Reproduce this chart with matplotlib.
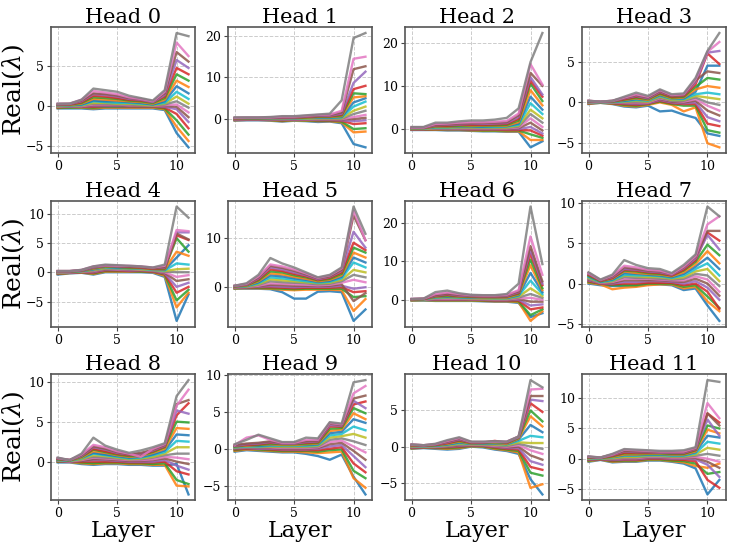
import matplotlib
matplotlib.use("Agg")
import matplotlib.pyplot as plt

plt.rcParams['font.family'] = ['DejaVu Serif']
plt.rcParams['mathtext.fontset'] = 'dejavuserif'

layers = list(range(12))
titles = [f"Head {i}" for i in range(12)]

# each head: rows = layers 0..11, columns = eigenvalue index (real part)
head0 = [
 [-0.3,-0.25,-0.2,-0.15,-0.1,-0.1,-0.05,0,0,0.05,0.1,0.1,0.15,0.2,0.2,0.25,0.3,0.3],
 [-0.3,-0.2,-0.2,-0.1,-0.1,-0.05,0,0,0.05,0.1,0.1,0.15,0.2,0.2,0.25,0.3,0.3,0.3],
 [-0.3,-0.2,-0.15,-0.1,-0.05,0,0,0.05,0.1,0.15,0.2,0.3,0.4,0.5,0.6,0.7,0.8,0.8],
 [-0.4,-0.3,-0.2,-0.1,0,0.1,0.2,0.3,0.4,0.6,0.7,0.9,1.1,1.3,1.5,1.6,1.9,2.2],
 [-0.3,-0.2,-0.1,0,0,0.1,0.2,0.3,0.4,0.5,0.6,0.8,1.0,1.2,1.4,1.5,1.7,2.0],
 [-0.3,-0.2,-0.1,0,0,0.1,0.2,0.2,0.3,0.4,0.6,0.7,0.9,1.0,1.2,1.3,1.5,1.8],
 [-0.3,-0.2,-0.1,-0.05,0,0.05,0.1,0.2,0.3,0.4,0.5,0.6,0.7,0.8,0.9,1.0,1.1,1.3],
 [-0.3,-0.2,-0.1,-0.05,0,0,0.1,0.1,0.2,0.3,0.4,0.5,0.6,0.7,0.8,0.9,0.9,1.0],
 [-0.3,-0.2,-0.1,-0.05,0,0,0.05,0.1,0.1,0.2,0.2,0.3,0.4,0.5,0.5,0.6,0.6,0.7],
 [-0.5,-0.4,-0.3,-0.2,-0.1,0,0.1,0.2,0.3,0.4,0.6,0.8,1.0,1.2,1.4,1.6,1.8,2.0],
 [-3.4,-2.6,-1.8,-1.0,-0.4,-0.1,0.2,0.6,1.2,1.8,2.5,3.2,4.0,4.8,5.8,6.8,8.0,9.2],
 [-5.2,-4.4,-3.6,-2.8,-2.0,-1.4,-0.8,-0.2,0.3,0.9,1.6,2.4,3.2,4.0,4.8,5.6,6.3,8.8],
]
head1 = [
 [-0.4,-0.3,-0.2,-0.15,-0.1,-0.05,0,0,0.05,0.1,0.1,0.15,0.2,0.2,0.25,0.3,0.3,0.4],
 [-0.3,-0.2,-0.15,-0.1,-0.05,0,0,0.05,0.1,0.1,0.15,0.2,0.2,0.25,0.3,0.3,0.35,0.4],
 [-0.3,-0.2,-0.15,-0.1,-0.05,0,0,0.05,0.1,0.1,0.15,0.2,0.2,0.25,0.3,0.3,0.35,0.4],
 [-0.4,-0.3,-0.2,-0.15,-0.1,-0.05,0,0,0.05,0.1,0.15,0.2,0.25,0.3,0.3,0.35,0.4,0.5],
 [-0.6,-0.5,-0.4,-0.3,-0.2,-0.1,0,0,0.1,0.1,0.2,0.2,0.3,0.3,0.4,0.5,0.6,0.7],
 [-0.4,-0.3,-0.2,-0.15,-0.1,0,0,0.05,0.1,0.15,0.2,0.25,0.3,0.35,0.4,0.5,0.6,0.7],
 [-0.5,-0.4,-0.3,-0.2,-0.1,0,0,0.1,0.1,0.2,0.3,0.3,0.4,0.5,0.6,0.7,0.8,0.9],
 [-0.7,-0.5,-0.4,-0.3,-0.2,-0.1,0,0.1,0.2,0.3,0.4,0.5,0.6,0.7,0.8,0.9,1.0,1.1],
 [-0.6,-0.5,-0.4,-0.3,-0.2,-0.1,0,0.1,0.2,0.3,0.4,0.5,0.6,0.7,0.8,1.0,1.1,1.3],
 [-1.0,-0.8,-0.6,-0.4,-0.3,-0.1,0,0.1,0.2,0.4,0.5,0.7,0.9,1.1,1.3,1.6,2.0,4.5],
 [-6.0,-3.2,-2.4,-1.2,-0.5,0,0.5,1.2,2.0,3.0,4.0,5.2,6.2,7.2,8.7,12.0,14.5,19.5],
 [-6.8,-3.0,-2.2,-1.0,-0.3,0.3,1.0,2.0,3.0,4.2,5.0,5.5,6.0,8.0,11.4,12.7,15.0,20.7],
]
head2 = [
 [-0.2,-0.15,-0.1,-0.05,0,0,0.05,0.1,0.1,0.15,0.2,0.2,0.25,0.3,0.3,0.4,0.4,0.5],
 [-0.2,-0.15,-0.1,-0.05,0,0,0.05,0.1,0.1,0.15,0.2,0.2,0.25,0.3,0.3,0.4,0.4,0.5],
 [-0.2,-0.1,0,0,0.1,0.1,0.2,0.2,0.3,0.4,0.5,0.6,0.7,0.8,0.9,1.0,1.2,1.5],
 [-0.3,-0.2,-0.1,0,0,0.1,0.2,0.2,0.3,0.4,0.5,0.6,0.7,0.8,1.0,1.1,1.3,1.5],
 [-0.3,-0.2,-0.1,0,0,0.1,0.2,0.3,0.4,0.5,0.6,0.7,0.8,1.0,1.1,1.3,1.5,1.8],
 [-0.4,-0.3,-0.2,-0.1,0,0.1,0.2,0.3,0.4,0.5,0.6,0.7,0.9,1.0,1.2,1.3,1.6,2.0],
 [-0.5,-0.4,-0.3,-0.1,0,0.1,0.2,0.3,0.4,0.5,0.6,0.8,0.9,1.0,1.2,1.4,1.6,2.0],
 [-0.5,-0.4,-0.3,-0.1,0,0.1,0.2,0.3,0.4,0.5,0.7,0.8,0.9,1.1,1.3,1.5,1.7,2.2],
 [-0.6,-0.5,-0.3,-0.2,0,0.1,0.2,0.3,0.4,0.6,0.7,0.8,1.0,1.2,1.4,1.6,1.9,2.6],
 [-0.6,-0.5,-0.3,-0.2,0,0.2,0.4,0.6,0.8,1.0,1.3,1.6,2.0,2.4,2.8,3.2,3.6,4.8],
 [-4.2,-2.5,-1.2,-0.3,0.5,1.5,2.5,3.5,4.5,6.0,7.5,9.0,10.5,11.2,12.0,13.0,15.0,15.5],
 [-2.8,-2.5,-2.0,-1.5,-1.0,-0.3,0.5,1.5,2.5,3.5,4.5,5.5,6.5,7.5,8.0,10.0,10.3,22.2],
]
head3 = [
 [-0.2,-0.15,-0.1,-0.1,-0.05,0,0,0,0.05,0.05,0.1,0.1,0.1,0.15,0.15,0.2,0.2,0.2],
 [-0.05,-0.05,0,0,0,0,0,0.02,0.02,0.03,0.03,0.05,0.05,0.05,0.08,0.08,0.1,0.1],
 [-0.2,-0.15,-0.1,-0.1,-0.05,0,0,0,0.05,0.05,0.1,0.1,0.1,0.15,0.15,0.2,0.2,0.2],
 [-0.5,-0.4,-0.3,-0.2,-0.1,-0.05,0,0.05,0.1,0.15,0.2,0.3,0.35,0.4,0.5,0.55,0.6,0.7],
 [-0.6,-0.5,-0.4,-0.3,-0.2,-0.1,0,0.1,0.2,0.3,0.4,0.5,0.6,0.7,0.8,0.9,1.0,1.2],
 [-0.4,-0.3,-0.2,-0.15,-0.1,0,0,0.1,0.1,0.2,0.3,0.3,0.4,0.5,0.5,0.6,0.7,0.8],
 [-1.1,0,0.1,0.2,0.3,0.4,0.5,0.6,0.7,0.8,0.9,1.0,1.1,1.2,1.3,1.4,1.5,1.6],
 [-1.0,-0.3,-0.2,-0.1,0,0.1,0.2,0.2,0.3,0.4,0.5,0.5,0.6,0.7,0.8,0.8,0.9,1.0],
 [-1.5,-1.1,-0.4,-0.2,-0.1,0,0.1,0.2,0.3,0.4,0.5,0.6,0.7,0.8,0.9,0.9,1.0,1.1],
 [-1.9,-0.6,-0.4,-0.2,0,0.2,0.4,0.6,0.8,1.0,1.3,1.6,1.9,2.2,2.5,2.7,2.8,3.0],
 [-3.8,-5.0,-3.4,-2.6,-1.8,-1.0,-0.4,0,0.6,1.2,4.5,2.0,3.0,6.0,6.1,3.8,6.2,6.3],
 [-4.1,-5.5,-3.7,-2.9,-2.3,-1.6,-1.0,-0.3,0.4,1.0,4.5,1.8,2.8,4.7,6.3,3.6,7.4,8.5],
]
head4 = [
 [-0.4,-0.3,-0.25,-0.2,-0.15,-0.1,-0.05,0,0,0.05,0.05,0.1,0.1,0.15,0.15,0.2,0.2,0.2],
 [-0.2,-0.15,-0.1,-0.1,-0.05,0,0,0,0.05,0.05,0.1,0.1,0.1,0.15,0.15,0.2,0.2,0.2],
 [-0.1,-0.05,0,0,0.05,0.1,0.1,0.15,0.15,0.2,0.2,0.25,0.25,0.3,0.3,0.35,0.4,0.4],
 [-0.4,-0.3,-0.2,-0.1,0,0.1,0.2,0.3,0.4,0.5,0.5,0.6,0.7,0.8,0.8,0.9,1.0,1.0],
 [0,0.1,0.2,0.3,0.4,0.5,0.6,0.6,0.7,0.8,0.9,0.9,1.0,1.1,1.1,1.2,1.2,1.3],
 [0,0.1,0.2,0.3,0.4,0.5,0.5,0.6,0.7,0.7,0.8,0.9,0.9,1.0,1.0,1.1,1.1,1.2],
 [0,0.1,0.2,0.2,0.3,0.4,0.5,0.5,0.6,0.7,0.7,0.8,0.8,0.9,1.0,1.0,1.1,1.1],
 [0,0.1,0.1,0.2,0.3,0.3,0.4,0.5,0.5,0.6,0.7,0.7,0.8,0.8,0.9,0.9,1.0,1.0],
 [-0.1,0,0.1,0.1,0.2,0.2,0.3,0.3,0.4,0.4,0.5,0.5,0.6,0.6,0.7,0.7,0.8,0.8],
 [-0.8,-0.6,-0.4,-0.3,-0.2,-0.1,0,0.1,0.2,0.3,0.4,0.5,0.6,0.7,0.8,0.9,1.1,1.3],
 [-8.3,-6.0,-4.8,-3.5,-2.5,-1.5,-0.8,0,0.5,1.5,2.5,3.5,5.8,6.3,6.8,6.6,7.2,11.2],
 [-3.8,-3.5,-3.0,-2.5,-1.8,-1.2,-0.5,0,0.6,1.3,4.6,2.8,3.5,5.5,6.8,5.6,7.0,9.3],
]
head5 = [
 [-0.3,-0.25,-0.2,-0.15,-0.1,-0.05,0,0,0.05,0.1,0.1,0.15,0.2,0.2,0.25,0.3,0.3,0.3],
 [-0.3,-0.2,-0.1,-0.05,0,0,0.05,0.1,0.15,0.2,0.25,0.3,0.4,0.5,0.5,0.6,0.7,0.8],
 [-0.3,-0.2,-0.1,0,0.1,0.2,0.3,0.5,0.6,0.8,1.0,1.2,1.4,1.6,1.8,2.0,2.2,2.5],
 [-0.4,-0.3,-0.2,0,0.2,0.5,0.8,1.2,1.6,2.0,2.4,2.8,3.2,3.6,4.0,4.3,4.6,5.9],
 [-1.0,-0.5,-0.3,-0.1,0.1,0.4,0.7,1.0,1.4,1.8,2.2,2.6,3.0,3.3,3.6,3.9,4.2,4.8],
 [-2.3,-0.6,-0.4,-0.2,0,0.3,0.6,0.9,1.2,1.5,1.8,2.1,2.4,2.7,3.0,3.3,3.6,4.0],
 [-2.3,-0.5,-0.3,-0.1,0.1,0.3,0.5,0.8,1.0,1.2,1.5,1.7,2.0,2.2,2.4,2.6,2.8,3.0],
 [-0.9,-0.5,-0.3,-0.1,0.1,0.3,0.4,0.6,0.8,0.9,1.1,1.2,1.4,1.5,1.6,1.8,1.9,2.0],
 [-0.8,-0.5,-0.3,-0.1,0.1,0.3,0.5,0.7,0.9,1.1,1.3,1.5,1.7,1.9,2.1,2.2,2.4,2.5],
 [-1.0,-0.6,-0.3,0,0.3,0.6,0.9,1.2,1.5,1.8,2.1,2.4,2.7,3.0,3.3,3.5,3.8,4.0],
 [-6.8,-4.8,-2.0,-1.0,-0.3,-2.8,1.5,2.5,3.5,5.0,6.0,7.0,8.0,9.0,11.2,14.5,15.5,16.3],
 [-4.5,-2.4,-1.8,-0.8,0,-1.2,1.0,2.0,3.0,4.0,5.0,6.0,7.0,7.5,8.0,9.5,9.5,10.8],
]
head6 = [
 [-0.2,-0.15,-0.1,-0.05,0,0,0,0.05,0.05,0.1,0.1,0.1,0.15,0.15,0.2,0.2,0.2,0.2],
 [-0.2,-0.1,-0.05,0,0,0.05,0.05,0.1,0.1,0.15,0.15,0.2,0.2,0.2,0.25,0.25,0.3,0.3],
 [-0.3,-0.2,-0.1,0,0.1,0.2,0.3,0.4,0.5,0.6,0.7,0.8,0.9,1.0,1.1,1.2,1.5,2.0],
 [-0.3,-0.2,-0.1,0,0.1,0.2,0.3,0.5,0.6,0.7,0.8,1.0,1.1,1.3,1.5,1.6,1.9,2.4],
 [-0.3,-0.2,-0.1,0,0.1,0.2,0.3,0.4,0.5,0.6,0.7,0.8,0.9,1.0,1.1,1.3,1.5,1.7],
 [-0.3,-0.2,-0.1,0,0.1,0.15,0.2,0.3,0.4,0.5,0.6,0.7,0.8,0.9,1.0,1.1,1.2,1.3],
 [-0.4,-0.3,-0.2,-0.1,0,0.1,0.2,0.3,0.4,0.5,0.6,0.6,0.7,0.8,0.9,1.0,1.1,1.2],
 [-0.5,-0.4,-0.3,-0.2,-0.1,0,0.1,0.2,0.3,0.4,0.5,0.6,0.7,0.8,0.9,1.0,1.1,1.2],
 [-0.5,-0.4,-0.3,-0.2,-0.1,0,0.1,0.2,0.3,0.4,0.5,0.6,0.8,0.9,1.0,1.2,1.3,1.5],
 [-0.8,-0.6,-0.4,-0.2,0,0.2,0.4,0.6,0.8,1.0,1.2,1.4,1.6,1.8,2.0,2.2,2.5,4.2],
 [-4.5,-5.5,-4.0,-2.5,-1.5,-0.5,0.5,1.5,3.0,5.0,7.0,9.0,10.5,12.0,13.0,14.0,16.5,24.3],
 [-3.5,-3.0,-2.5,-2.0,-1.2,-0.5,0,0.5,1.0,1.5,2.0,2.5,3.0,3.8,4.2,4.8,6.5,9.3],
]
head7 = [
 [0,0.1,0.2,0.3,0.4,0.5,0.6,0.6,0.7,0.8,0.9,1.0,1.0,1.1,1.2,1.3,1.3,1.4],
 [-0.2,-0.1,0,0,0.05,0.1,0.1,0.15,0.2,0.2,0.25,0.3,0.3,0.35,0.4,0.4,0.45,0.5],
 [-0.3,-0.7,-0.2,-0.1,0,0.1,0.2,0.3,0.3,0.4,0.5,0.6,0.7,0.7,0.8,0.9,1.0,1.1],
 [-0.3,-0.5,-0.2,0,0.2,0.4,0.6,0.8,1.0,1.1,1.3,1.5,1.6,1.7,1.8,2.0,2.2,2.9],
 [-0.3,-0.4,-0.2,0,0.2,0.4,0.6,0.7,0.9,1.0,1.2,1.3,1.5,1.6,1.7,1.8,2.0,2.3],
 [-0.1,-0.2,0,0.1,0.3,0.4,0.6,0.7,0.8,1.0,1.1,1.2,1.3,1.4,1.5,1.6,1.7,1.9],
 [-0.1,-0.1,0,0.1,0.3,0.4,0.5,0.6,0.8,0.9,1.0,1.1,1.2,1.3,1.4,1.5,1.6,1.8],
 [-0.2,-0.1,0,0.1,0.2,0.3,0.4,0.5,0.6,0.7,0.8,0.9,1.0,1.0,1.1,1.2,1.2,1.3],
 [-0.8,-0.6,-0.4,-0.2,0,0.2,0.4,0.6,0.8,1.0,1.2,1.4,1.6,1.7,1.9,2.0,2.1,2.3],
 [-0.6,-0.4,-0.2,0,0.3,0.6,0.9,1.2,1.5,1.8,2.1,2.4,2.7,2.9,3.1,3.3,3.4,3.6],
 [-2.7,-2.2,-1.6,-1.0,-0.5,0,0.5,1.0,1.8,2.5,3.2,4.0,4.8,6.3,6.0,6.5,7.3,9.5],
 [-4.6,-3.4,-3.0,-3.1,-2.0,-1.5,-1.0,-0.3,0.3,1.0,1.8,2.5,3.5,5.3,4.2,6.5,8.3,8.3],
]
head8 = [
 [-0.1,0,0,0.05,0.1,0.1,0.15,0.15,0.2,0.2,0.25,0.3,0.3,0.35,0.4,0.4,0.45,0.5],
 [-0.1,-0.05,0,0,0,0.05,0.05,0.1,0.1,0.1,0.15,0.15,0.15,0.2,0.2,0.2,0.2,0.2],
 [-0.3,-0.2,-0.1,0,0.1,0.1,0.2,0.3,0.3,0.4,0.5,0.5,0.6,0.7,0.7,0.8,0.9,1.0],
 [-0.4,-0.3,-0.2,0,0.2,0.3,0.5,0.6,0.8,1.0,1.1,1.3,1.5,1.6,1.8,1.9,2.1,3.0],
 [-0.3,-0.2,-0.1,0,0.2,0.3,0.4,0.5,0.7,0.8,0.9,1.1,1.2,1.3,1.5,1.6,1.8,2.0],
 [-0.3,-0.2,-0.1,0,0.1,0.2,0.3,0.4,0.5,0.6,0.7,0.8,0.9,1.0,1.1,1.2,1.3,1.5],
 [-0.4,-0.3,-0.2,-0.1,0,0.1,0.2,0.3,0.3,0.4,0.5,0.6,0.7,0.8,0.9,0.9,1.0,1.1],
 [-0.4,-0.3,-0.2,-0.1,0,0.1,0.2,0.3,0.4,0.5,0.6,0.7,0.8,0.9,1.0,1.1,0.6,1.4],
 [-0.5,-0.4,-0.3,-0.1,0,0.2,0.3,0.5,0.6,0.8,0.9,1.1,1.2,1.3,1.4,1.5,1.6,1.8],
 [-0.5,-0.4,-0.2,0,0.2,0.4,0.6,0.8,1.0,1.2,1.4,1.6,1.8,1.9,2.0,2.1,2.2,2.3],
 [-0.3,-3.0,-2.3,-1.2,-0.5,0,0.5,1.0,1.8,2.6,3.4,4.2,5.0,5.8,6.4,7.2,7.0,8.2],
 [-4.1,-3.1,-2.8,-1.6,-1.0,-0.3,0.3,1.0,1.8,2.5,3.3,4.1,4.9,7.3,6.0,7.7,9.0,10.2],
]
head9 = [
 [-0.4,-0.3,-0.2,-0.1,0,0,0.1,0.1,0.2,0.2,0.3,0.3,0.3,0.4,0.4,0.5,0.5,0.6],
 [-0.2,-0.1,0,0,0.1,0.1,0.2,0.2,0.3,0.3,0.4,0.4,0.5,0.5,0.6,0.7,1.5,1.2],
 [-0.3,-0.2,-0.1,0,0,0.1,0.2,0.2,0.3,0.3,0.4,0.5,0.5,0.6,0.7,0.8,1.8,1.9],
 [-0.4,-0.3,-0.2,-0.1,0,0.1,0.2,0.3,0.3,0.4,0.5,0.6,0.7,0.8,0.9,1.0,1.2,1.4],
 [-0.5,-0.4,-0.3,-0.2,-0.1,0,0.1,0.2,0.3,0.4,0.5,0.5,0.6,0.7,0.7,0.8,0.8,0.9],
 [-0.5,-0.4,-0.3,-0.2,-0.1,0,0.1,0.2,0.3,0.4,0.5,0.5,0.6,0.7,0.7,0.8,0.8,0.9],
 [-0.7,-0.5,-0.3,-0.2,-0.1,0,0.1,0.2,0.3,0.4,0.5,0.6,0.7,0.8,0.9,1.0,1.2,1.5],
 [-1.0,-0.6,-0.4,-0.2,0,0.1,0.2,0.3,0.4,0.5,0.6,0.7,0.8,0.9,1.0,1.1,1.2,1.4],
 [-1.5,-0.5,-0.2,0,0.3,0.6,0.9,1.2,1.5,1.8,2.1,2.4,2.7,3.0,3.2,3.4,3.5,3.6],
 [-0.8,-0.4,-0.1,0.2,0.5,0.8,1.1,1.4,1.7,2.0,2.3,2.6,2.8,3.0,3.1,3.2,3.3,3.4],
 [-3.8,-4.0,-3.0,-2.0,-1.0,-0.3,0.3,1.0,2.0,3.0,4.0,4.8,5.5,6.0,6.5,6.8,7.5,9.0],
 [-6.2,-5.3,-4.0,-3.2,-2.5,-1.5,-0.5,0.5,1.5,2.5,3.5,4.0,4.8,6.4,5.5,7.2,8.5,9.3],
]
head10 = [
 [-0.3,-0.25,-0.2,-0.15,-0.1,-0.05,0,0,0.05,0.1,0.1,0.15,0.2,0.2,0.25,0.3,0.3,0.3],
 [-0.2,-0.15,-0.1,-0.1,-0.05,0,0,0,0.05,0.05,0.1,0.1,0.1,0.15,0.15,0.2,0.2,0.2],
 [-0.3,-0.2,-0.15,-0.1,-0.05,0,0,0.05,0.1,0.1,0.15,0.2,0.2,0.25,0.3,0.3,0.35,0.4],
 [-0.4,-0.3,-0.2,-0.1,0,0,0.1,0.1,0.2,0.3,0.3,0.4,0.5,0.5,0.6,0.7,0.8,0.9],
 [-0.3,-0.2,-0.1,0,0.1,0.2,0.3,0.3,0.4,0.5,0.6,0.7,0.8,0.9,1.0,1.1,1.2,1.3],
 [0,0.05,0.1,0.15,0.2,0.2,0.25,0.3,0.35,0.4,0.4,0.45,0.5,0.55,0.6,0.6,0.65,0.7],
 [-0.1,0,0.05,0.1,0.15,0.2,0.25,0.3,0.35,0.4,0.45,0.5,0.5,0.55,0.6,0.6,0.65,0.7],
 [-0.4,-0.3,-0.2,-0.1,0,0.05,0.1,0.2,0.3,0.4,0.45,0.5,0.6,0.8,0.65,0.7,0.7,0.75],
 [-0.6,-0.5,-0.4,-0.3,-0.2,-0.1,0,0.1,0.2,0.3,0.35,0.4,0.5,0.55,0.6,0.65,0.7,0.7],
 [-1.0,-0.8,-0.6,-0.4,-0.2,0,0.2,0.4,0.6,0.8,1.0,1.1,1.2,1.3,1.3,1.4,1.4,1.4],
 [-4.5,-5.7,-3.6,-2.8,-2.0,-1.2,-0.5,0,0.5,1.5,3.0,4.2,5.0,6.0,6.5,7.0,7.9,9.2],
 [-6.6,-5.2,-4.0,-3.2,-2.5,-1.8,-1.0,-0.3,0.5,1.3,2.0,2.8,3.5,4.8,6.3,7.0,8.0,8.2],
]
head11 = [
 [-0.5,-0.4,-0.3,-0.2,-0.15,-0.1,0,0,0.05,0.1,0.15,0.2,0.2,0.25,0.3,0.3,0.35,0.4],
 [-0.2,-0.15,-0.1,-0.1,-0.05,0,0,0,0.05,0.05,0.1,0.1,0.1,0.15,0.15,0.2,0.2,0.2],
 [-0.6,-0.5,-0.4,-0.3,-0.2,-0.1,0,0,0.1,0.2,0.3,0.3,0.4,0.5,0.6,0.7,0.7,0.8],
 [-0.5,-0.4,-0.3,-0.2,-0.1,0,0.1,0.2,0.3,0.5,0.6,0.7,0.9,1.0,1.2,1.3,1.5,1.6],
 [-0.5,-0.4,-0.3,-0.2,-0.1,0,0.1,0.2,0.3,0.5,0.6,0.7,0.9,1.0,1.1,1.2,1.4,1.5],
 [-0.3,-0.2,-0.1,0,0.1,0.2,0.3,0.4,0.5,0.6,0.7,0.8,0.9,1.0,1.1,1.2,1.3,1.4],
 [-0.3,-0.2,-0.1,0,0.1,0.2,0.3,0.4,0.5,0.6,0.7,0.8,0.9,1.0,1.0,1.1,1.2,1.3],
 [-0.5,-0.4,-0.3,-0.1,0,0.1,0.2,0.3,0.4,0.5,0.6,0.7,0.8,0.9,1.0,1.1,1.2,1.3],
 [-0.8,-0.6,-0.4,-0.2,0,0.1,0.2,0.3,0.4,0.5,0.6,0.7,0.8,0.9,1.0,1.1,1.2,1.4],
 [-1.6,-1.2,-0.8,-0.4,-0.1,0.1,0.3,0.5,0.7,0.9,1.1,1.2,1.4,1.5,1.6,1.7,1.8,1.9],
 [-5.9,-1.5,-2.5,-3.5,-1.0,-0.5,0,0.8,1.8,2.8,3.8,4.8,5.5,7.5,6.5,7.5,9.2,13.0],
 [-3.5,-0.8,-2.2,-4.8,-3.0,-1.5,-0.5,0.5,1.5,2.5,3.5,4.2,5.0,6.0,3.8,5.5,6.7,12.7],
]

heads = [head0, head1, head2, head3, head4, head5,
         head6, head7, head8, head9, head10, head11]

fig, axes = plt.subplots(3, 4, figsize=(7.31, 5.46), dpi=100)
fig.subplots_adjust(left=0.070, right=0.993, top=0.950, bottom=0.084,
                    wspace=0.23, hspace=0.38)

for idx, ax in enumerate(axes.flat):
    data = heads[idx]
    n = len(data[0])
    for k in range(n):
        ax.plot(layers, [row[k] for row in data], lw=1.7, alpha=0.85)
    ax.set_title(titles[idx], fontsize=15, pad=3)
    ax.grid(True, linestyle='--', color='#cccccc', linewidth=0.7)
    ax.set_axisbelow(True)
    ax.tick_params(labelsize=9, length=3, color='#444444', width=0.8, pad=2)
    for sp in ax.spines.values():
        sp.set_color('#555555')
        sp.set_linewidth(1.2)
    ax.set_xticks([0, 5, 10])
    r, c = divmod(idx, 4)
    if c == 0:
        ax.set_ylabel(r'Real($\lambda$)', fontsize=18)
        ax.yaxis.set_label_coords(-0.17, 0.5)
    if r == 2:
        ax.set_xlabel('Layer', fontsize=16, labelpad=0)

fig.savefig('out.png', dpi=100)
